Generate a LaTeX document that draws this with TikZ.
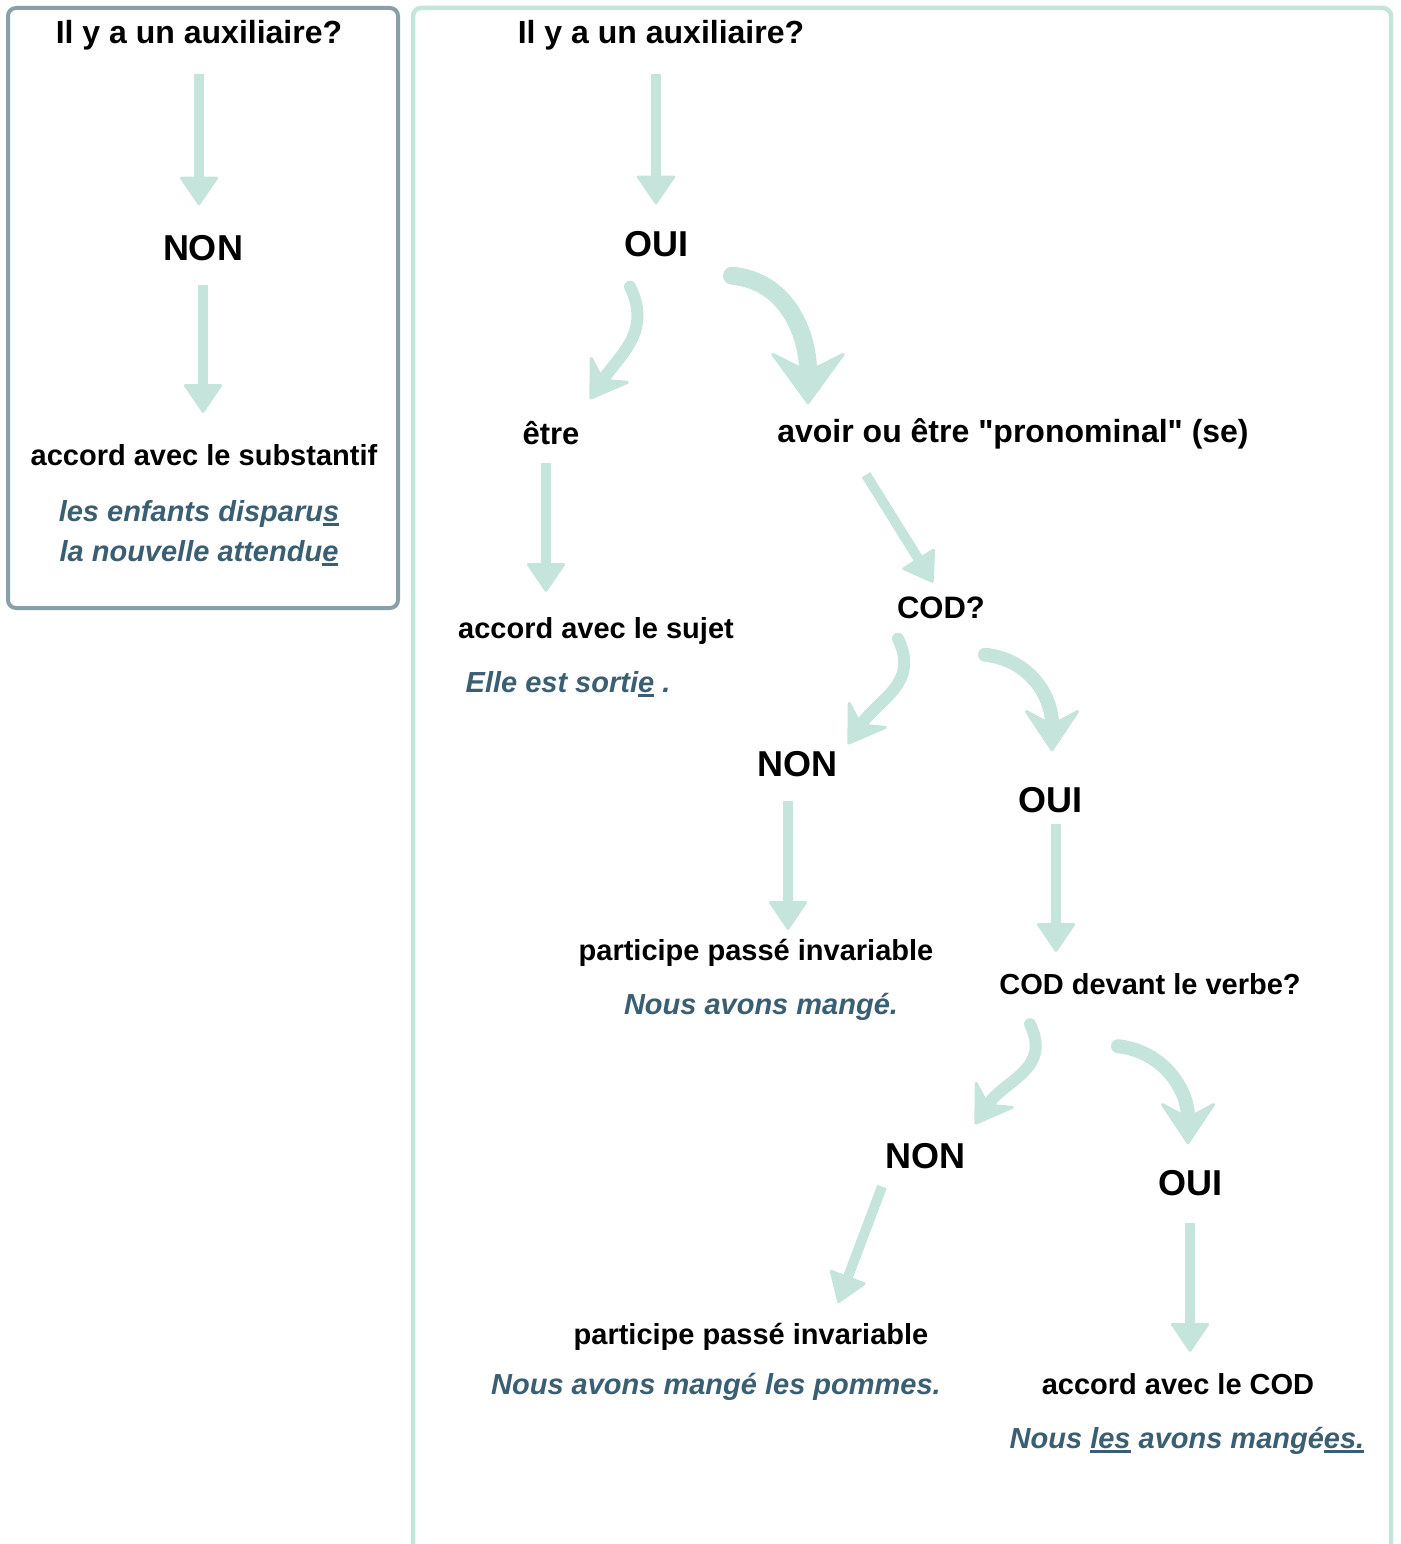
\documentclass[tikz,border=0pt]{standalone}
\usepackage{fontspec}
\setmainfont{Liberation Sans}[Ligatures=TeXOff]
\usepackage{xcolor}
\usepackage{tikz}
\usetikzlibrary{arrows.meta}

\definecolor{menthe}{RGB}{197,228,219}
\definecolor{ardoise}{RGB}{138,160,168}
\definecolor{encre}{RGB}{58,95,115}

\newsavebox{\soulbox}
\newcommand{\souligne}[1]{\sbox{\soulbox}{#1}\rlap{\rule[-4.5pt]{\wd\soulbox}{2.5pt}}\usebox{\soulbox}}

\tikzset{
  titre/.style={font=\bfseries\fontsize{32}{37}\selectfont,inner sep=0pt,text height=23pt,text depth=2pt},
  branche/.style={font=\bfseries\fontsize{31}{36}\selectfont,inner sep=0pt,text height=23pt,text depth=2pt},
  grandebranche/.style={font=\bfseries\fontsize{32}{37}\selectfont,inner sep=0pt,text height=23pt,text depth=2pt},
  choix/.style={font=\bfseries\fontsize{36}{42}\selectfont,inner sep=0pt,text height=27pt,text depth=2pt},
  regle/.style={font=\bfseries\fontsize{29}{34}\selectfont,inner sep=0pt,text height=22pt,text depth=2pt},
  exemple/.style={font=\bfseries\itshape\fontsize{29}{34}\selectfont,encre,inner sep=0pt,text height=22pt,text depth=2pt},
  fleche/.style={menthe,line width=10pt,-{Triangle[width=40pt,length=30pt,round,line width=3pt]}},
  courbe/.style={menthe,line width=12pt,line cap=round,-{Stealth[width=52pt,length=40pt,inset=14pt,round,line width=3pt]}},
  moyennecourbe/.style={menthe,line width=14pt,line cap=round,-{Stealth[width=60pt,length=45pt,inset=16pt,round,line width=3pt]}},
  grandecourbe/.style={menthe,line width=18pt,line cap=round,-{Stealth[width=80pt,length=55pt,inset=20pt,round,line width=3pt]}}
}

\begin{document}
\begin{tikzpicture}[x=1pt,y=-1pt]
\useasboundingbox (0,0) rectangle (1400,1544);

% cadres
\draw[ardoise,line width=4pt,rounded corners=8pt] (8,8) rectangle (398,608);
\draw[menthe,line width=4.5pt,rounded corners=8pt] (413,1570) -- (413,8) -- (1391,8) -- (1391,1570);

% sans auxiliaire
\node (q1) at (199,33)[titre]{Il y a un auxiliaire?};
\node (non1) at (203,248)[choix]{NON};
\node (subst) at (204,455)[regle]{accord avec le substantif};
\node (ex1) at (199,511)[exemple]{les enfants disparu\souligne{s}};
\node (ex2) at (199,551)[exemple]{la nouvelle attendu\souligne{e}};

\draw[fleche,shorten <=28pt,shorten >=28pt] (q1.south) -- (q1.south |- non1.north);
\draw[fleche,shorten <=22pt,shorten >=30pt] (non1.south) -- (non1.south |- subst.north);

% avec auxiliaire
\node (q2) at (661,33)[titre]{Il y a un auxiliaire?};
\node (oui1) at (656,244)[choix]{OUI};
\draw[fleche,shorten <=28pt,shorten >=25pt] (oui1 |- q2.south) -- (oui1.north);

\node (etre) at (551,434)[branche]{être};
\node (avoir) at (1013,432)[grandebranche]{avoir ou être "pronominal" (se)};

\draw[courbe] ([xshift=-26pt,yshift=-28pt]oui1.south) .. controls +(22,45) and +(30,-45) .. ([xshift=39pt,yshift=22pt]etre.north);
\draw[grandecourbe] ([xshift=76pt,yshift=-17pt]oui1.south) .. controls +(55,5) and +(0,-70) .. ([xshift=-205pt,yshift=15pt]avoir.north);

\node (sujet) at (596,628)[regle]{accord avec le sujet};
\node (exsujet) at (568,682)[exemple]{Elle est sorti\souligne{e} .};
\draw[fleche,shorten <=16pt,shorten >=24pt] ([xshift=-5pt]etre.south) -- ([xshift=-5pt]etre.south |- sujet.north);

\node (cod) at (941,608)[branche]{COD?};
\draw[fleche,shorten >=15pt] ([xshift=-147pt,yshift=-30pt]avoir.south) -- (cod.north);

\node (non2) at (797,764)[choix]{NON};
\node (oui2) at (1050,800)[choix]{OUI};
\draw[courbe] ([xshift=-43pt,yshift=-18pt]cod.south) .. controls +(22,45) and +(30,-45) .. ([xshift=51pt,yshift=5pt]non2.north);
\draw[moyennecourbe] ([xshift=44pt,yshift=-34pt]cod.south) .. controls +(45,5) and +(0,-55) .. ([xshift=2pt,yshift=34pt]oui2.north);

\node (inv1) at (756,950)[regle]{participe passé invariable};
\node (exinv1) at (761,1004)[exemple]{Nous avons mangé.};
\draw[fleche,shorten <=22pt,shorten >=8pt] ([xshift=-9pt]non2.south) -- ([xshift=-9pt]non2.south |- inv1.north);

\node (codv) at (1150,984)[regle]{COD devant le verbe?};
\draw[fleche,shorten <=9pt,shorten >=20pt] ([xshift=6pt]oui2.south) -- ([xshift=6pt]oui2.south |- codv.north);

\node (non3) at (925,1156)[choix]{NON};
\node (oui3) at (1190,1183)[choix]{OUI};
\draw[courbe] ([xshift=-120pt,yshift=-28pt]codv.south) .. controls +(22,45) and +(30,-45) .. ([xshift=50pt,yshift=17pt]non3.north);
\draw[moyennecourbe] ([xshift=-32pt,yshift=-50pt]codv.south) .. controls +(45,5) and +(0,-55) .. ([xshift=-2pt,yshift=24pt]oui3.north);

\node (inv2) at (751,1334)[regle]{participe passé invariable};
\node (exinv2) at (716,1384)[exemple]{Nous avons mangé les pommes.};
\draw[fleche,shorten <=17pt,shorten >=20pt] ([xshift=-37pt]non3.south) -- ([xshift=80pt]inv2.north);

\node (accod) at (1178,1384)[regle]{accord avec le COD};
\node (excod) at (1187,1438)[exemple]{Nous \souligne{les} avons mangé\souligne{es.}};
\draw[fleche,shorten <=25pt,shorten >=20pt] (oui3.south) -- (oui3.south |- accod.north);

\end{tikzpicture}
\end{document}
